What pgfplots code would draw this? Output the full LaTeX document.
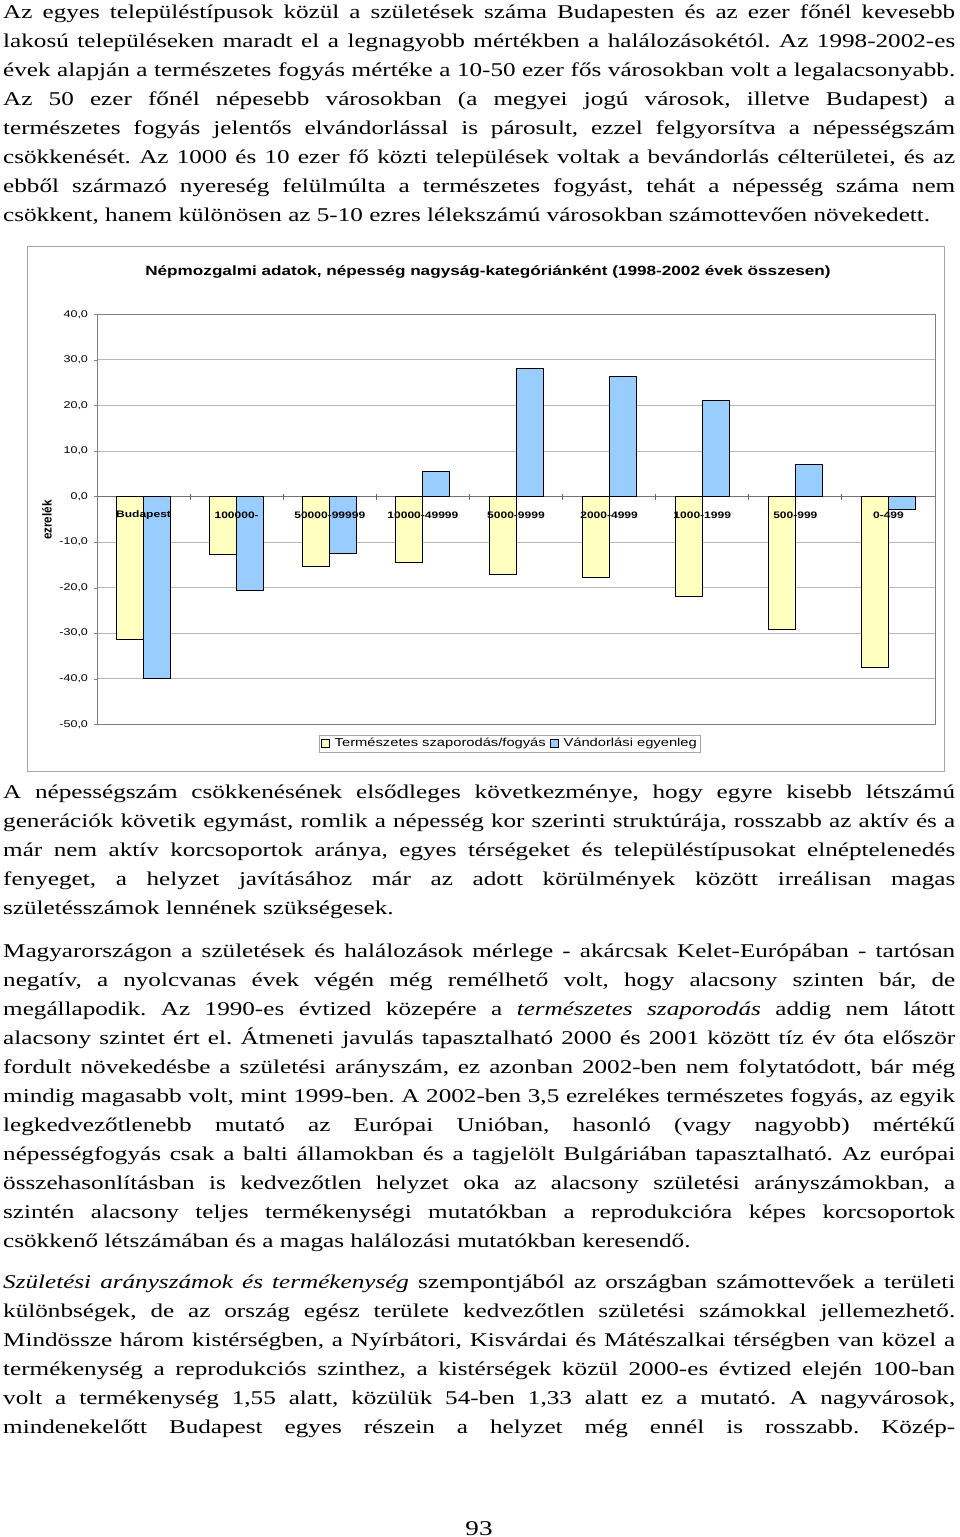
\documentclass[border=0pt]{standalone}
\usepackage{fontspec}
\setmainfont{Liberation Serif}[FakeStretch=1.29]
\newfontfamily\chartfont{Liberation Sans}[FakeStretch=1.28]
\newfontfamily\ylabfont{Liberation Sans}[FakeStretch=0.9]
\usepackage{pgfplots}
\pgfplotsset{compat=1.18}
\definecolor{barY}{RGB}{255,255,192}
\definecolor{barB}{RGB}{153,204,255}
\hbadness=10000 \hfuzz=60pt
\frenchspacing
\newcommand\J[1]{\hbox to 952pt{#1}}
\newcommand\N[1]{\hbox{#1}}
\newcommand\bodyfont{\fontsize{19.5pt}{29pt}\selectfont}
\newcommand\catfont{\chartfont\bfseries\fontsize{9.4pt}{11pt}\selectfont}
\begin{document}
\begin{tikzpicture}
\useasboundingbox (0,0) rectangle (960pt,-1537pt);
% paragraph 1
\node[anchor=base west, inner sep=0pt] at (3pt,-18pt) {\vtop{\bodyfont
\J{Az egyes településtípusok közül a születések száma Budapesten és az ezer főnél kevesebb}
\J{lakosú településeken maradt el a legnagyobb mértékben a halálozásokétól. Az 1998-2002-es}
\J{évek alapján a természetes fogyás mértéke a 10-50 ezer fős városokban volt a legalacsonyabb.}
\J{Az 50 ezer főnél népesebb városokban (a megyei jogú városok, illetve Budapest) a}
\J{természetes fogyás jelentős elvándorlással is párosult, ezzel felgyorsítva a népességszám}
\J{csökkenését. Az 1000 és 10 ezer fő közti települések voltak a bevándorlás célterületei, és az}
\J{ebből származó nyereség felülmúlta a természetes fogyást, tehát a népesség száma nem}
\N{csökkent, hanem különösen az 5-10 ezres lélekszámú városokban számottevően növekedett.}}};
% chart frame
\draw[gray!70, line width=0.8pt] (27pt,-246pt) rectangle (944pt,-771pt);
\begin{axis}[
  at={(97pt,-724.3pt)}, anchor=south west,
  scale only axis, width=838pt, height=410pt,
  xmin=-0.5, xmax=8.5, ymin=-50, ymax=40,
  ybar=0pt, bar width=27pt,
  xtick=\empty,
  ytick={-50,-40,...,40},
  ytick pos=left,
  tick align=outside,
  major tick length=3pt,
  y tick style={gray},
  y tick label style={font=\chartfont\fontsize{9.8pt}{11pt}\selectfont, xshift=-2.5pt},
  /pgf/number format/.cd, fixed, fixed zerofill, precision=1, use comma, assume math mode=true,
  /pgfplots/.cd,
  ymajorgrids,
  grid style={gray!55, line width=0.8pt},
  axis line style={gray, line width=0.8pt},
  extra y ticks={0},
  extra y tick labels={},
  extra y tick style={grid style={black!55, line width=0.9pt}},
  title={Népmozgalmi adatok, népesség nagyság-kategóriánként (1998-2002 évek összesen)},
  title style={at={(axis description cs:0.4666,1.088)}, anchor=center, font=\chartfont\bfseries\fontsize{13.4pt}{15pt}\selectfont},
  ylabel={ezrelék},
  ylabel style={at={(axis description cs:-0.0597,0.498)}, anchor=center, font=\ylabfont\bfseries\fontsize{13pt}{15pt}\selectfont},
  legend columns=2,
  legend style={at={(axis description cs:0.4928,-0.0468)}, anchor=center, draw=gray!70,
    font=\chartfont\fontsize{11.5pt}{13pt}\selectfont, inner sep=1.5pt,
    /tikz/every odd column/.append style={column sep=3pt},
    /tikz/every even column/.append style={column sep=2pt}},
  legend image code/.code={\draw[#1, draw=black, line width=0.7pt] (0pt,-4pt) rectangle (8pt,4pt);},
]
\addplot[fill=barY, draw=black, line width=0.8pt] coordinates {(0,-31.3) (1,-12.7) (2,-15.3) (3,-14.4) (4,-17.0) (5,-17.7) (6,-21.9) (7,-29.1) (8,-37.6)};
\addplot[fill=barB, draw=black, line width=0.8pt] coordinates {(0,-40.0) (1,-20.7) (2,-12.4) (3,5.6) (4,28.2) (5,26.4) (6,21.1) (7,7.0) (8,-2.8)};
\legend{Természetes szaporodás/fogyás, Vándorlási egyenleg}
\end{axis}
% overlay axis: category labels on top of the bars, small ticks on the zero line
\begin{axis}[
  at={(97pt,-724.3pt)}, anchor=south west,
  scale only axis, width=838pt, height=410pt,
  xmin=-0.5, xmax=8.5, ymin=-50, ymax=40,
  axis x line=middle, axis y line=none,
  axis line style={draw=none},
  ytick=\empty,
  xtick={0,...,8},
  xticklabels={Budapest,100000-,50000-99999,10000-49999,5000-9999,2000-4999,1000-1999,500-999,0-499},
  x tick label style={font=\catfont, anchor=center, yshift=-19pt},
  major tick length=0pt,
  extra x ticks={0.5,1.5,...,7.5},
  extra x tick labels={},
  extra x tick style={major tick length=6pt, tick style={black!60, line width=0.8pt}},
]
\end{axis}
% paragraph 2
\node[anchor=base west, inner sep=0pt] at (3pt,-798.5pt) {\vtop{\bodyfont
\J{A népességszám csökkenésének elsődleges következménye, hogy egyre kisebb létszámú}
\J{generációk követik egymást, romlik a népesség kor szerinti struktúrája, rosszabb az aktív és a}
\J{már nem aktív korcsoportok aránya, egyes térségeket és településtípusokat elnéptelenedés}
\J{fenyeget, a helyzet javításához már az adott körülmények között irreálisan magas}
\N{születésszámok lennének szükségesek.}}};
% paragraph 3
\node[anchor=base west, inner sep=0pt] at (3pt,-957pt) {\vtop{\bodyfont
\J{Magyarországon a születések és halálozások mérlege - akárcsak Kelet-Európában - tartósan}
\J{negatív, a nyolcvanas évek végén még remélhető volt, hogy alacsony szinten bár, de}
\J{megállapodik. Az 1990-es évtized közepére a \textit{természetes szaporodás} addig nem látott}
\J{alacsony szintet ért el. Átmeneti javulás tapasztalható 2000 és 2001 között tíz év óta először}
\J{fordult növekedésbe a születési arányszám, ez azonban 2002-ben nem folytatódott, bár még}
\J{mindig magasabb volt, mint 1999-ben. A 2002-ben 3,5 ezrelékes természetes fogyás, az egyik}
\J{legkedvezőtlenebb mutató az Európai Unióban, hasonló (vagy nagyobb) mértékű}
\J{népességfogyás csak a balti államokban és a tagjelölt Bulgáriában tapasztalható. Az európai}
\J{összehasonlításban is kedvezőtlen helyzet oka az alacsony születési arányszámokban, a}
\J{szintén alacsony teljes termékenységi mutatókban a reprodukcióra képes korcsoportok}
\N{csökkenő létszámában és a magas halálozási mutatókban keresendő.}}};
% paragraph 4
\node[anchor=base west, inner sep=0pt] at (3pt,-1288pt) {\vtop{\bodyfont
\J{\textit{Születési arányszámok és termékenység} szempontjából az országban számottevőek a területi}
\J{különbségek, de az ország egész területe kedvezőtlen születési számokkal jellemezhető.}
\J{Mindössze három kistérségben, a Nyírbátori, Kisvárdai és Mátészalkai térségben van közel a}
\J{termékenység a reprodukciós szinthez, a kistérségek közül 2000-es évtized elején 100-ban}
\J{volt a termékenység 1,55 alatt, közülük 54-ben 1,33 alatt ez a mutató. A nagyvárosok,}
\J{mindenekelőtt Budapest egyes részein a helyzet még ennél is rosszabb. Közép-}}};
\node[anchor=base, inner sep=0pt] at (479pt,-1535pt) {\fontsize{21pt}{24pt}\selectfont 93};
\end{tikzpicture}
\end{document}
